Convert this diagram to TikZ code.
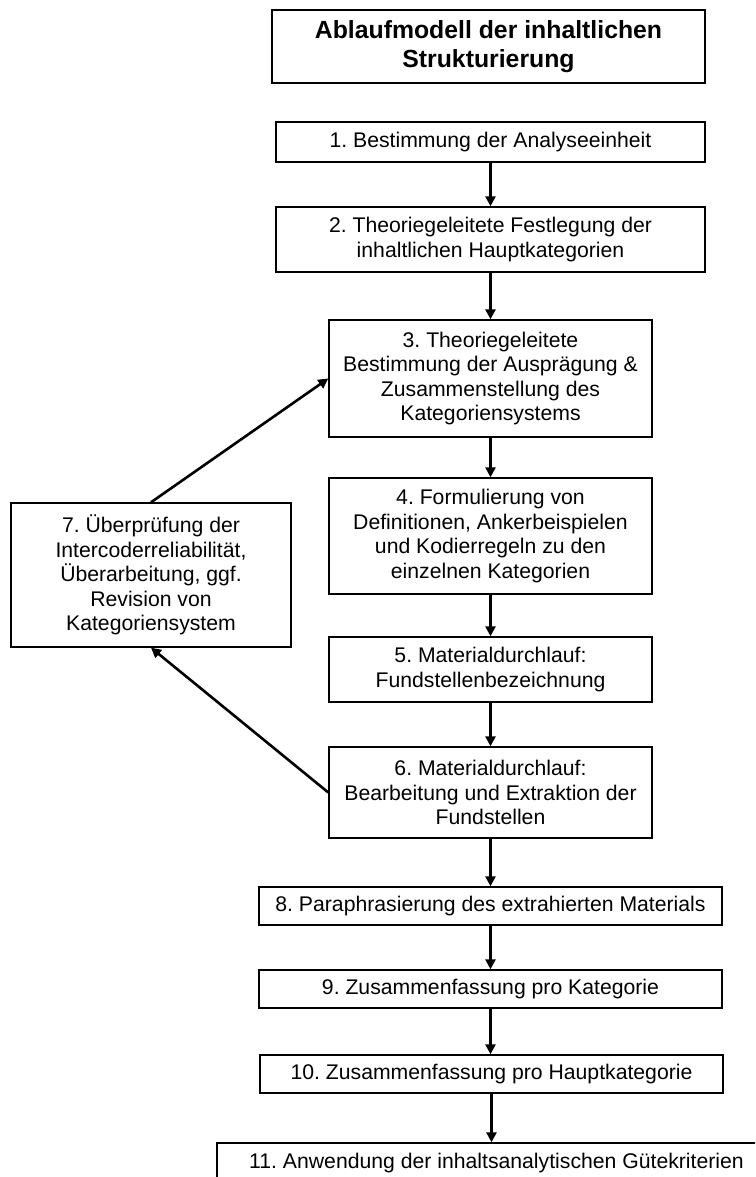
\documentclass[tikz,border=0pt]{standalone}
\usepackage{fontspec}
\setmainfont{Liberation Sans}
\usetikzlibrary{arrows.meta}
\frenchspacing
\begin{document}
\begin{tikzpicture}[x=1pt,y=-1pt,
  stepbox/.style={draw, line width=1.4pt, inner sep=0pt, align=center,
    font=\fontsize{21.2pt}{24.5pt}\selectfont\frenchspacing},
  titlebox/.style={draw, line width=1.4pt, inner sep=0pt, align=center,
    font=\fontsize{24.8pt}{28.5pt}\selectfont\bfseries},
  flow/.style={line width=2.6pt, -{Triangle[length=10pt,width=10pt]}}]
\useasboundingbox (0,0) rectangle (755,1177);
\clip (0,0) rectangle (755,1177);

\node[titlebox, minimum width=433pt, minimum height=73pt] (title) at (488.5,46.5)
  {Ablaufmodell der inhaltlichen\\Strukturierung};

\node[stepbox, minimum width=429pt, minimum height=40pt] (s1) at (490.5,142)
  {1. Bestimmung der Analyseeinheit};
\node[stepbox, minimum width=429pt, minimum height=65pt] (s2) at (490.5,239.5)
  {2. Theoriegeleitete Festlegung der\\inhaltlichen Hauptkategorien};
\node[stepbox, minimum width=323pt, minimum height=117pt] (s3) at (490.5,378.5)
  {3. Theoriegeleitete\\Bestimmung der Ausprägung \&\\Zusammenstellung des\\Kategoriensystems};
\node[stepbox, minimum width=323pt, minimum height=116pt] (s4) at (490.5,536)
  {4. Formulierung von\\Definitionen, Ankerbeispielen\\und Kodierregeln zu den\\einzelnen Kategorien};
\node[stepbox, minimum width=323pt, minimum height=65pt] (s5) at (490.5,669.5)
  {5. Materialdurchlauf:\\Fundstellenbezeichnung};
\node[stepbox, minimum width=323pt, minimum height=91pt] (s6) at (490.5,792.5)
  {6. Materialdurchlauf:\\Bearbeitung und Extraktion der\\Fundstellen};
\node[stepbox, minimum width=280pt, minimum height=144pt] (s7) at (151,575)
  {7. Überprüfung der\\Intercoderreliabilität,\\Überarbeitung, ggf.\\Revision von\\Kategoriensystem};
\node[stepbox, minimum width=463pt, minimum height=38pt] (s8) at (490.5,906)
  {8. Paraphrasierung des extrahierten Materials};
\node[stepbox, minimum width=463pt, minimum height=38pt] (s9) at (490.5,989)
  {9. Zusammenfassung pro Kategorie};
\node[stepbox, minimum width=463pt, minimum height=38pt] (s10) at (491.5,1074)
  {10. Zusammenfassung pro Hauptkategorie};
\node[stepbox, minimum width=559pt, minimum height=40pt] (s11) at (496.5,1163)
  {11. Anwendung der inhaltsanalytischen Gütekriterien};

\draw[flow] (s1) -- (s2);
\draw[flow] (s2) -- (s3);
\draw[flow] (s3) -- (s4);
\draw[flow] (s4) -- (s5);
\draw[flow] (s5) -- (s6);
\draw[flow] (s6.south) -- (s6.south |- s8.north);
\draw[flow] (s8.south) -- (s8.south |- s9.north);
\draw[flow] (s9.south) -- (s9.south |- s10.north);
\draw[flow] (s10.south) -- (s10.south |- s11.north);
\draw[flow] (s6.west) -- (s7.south);
\draw[flow] (s7.north) -- (s3.west);
\end{tikzpicture}
\end{document}
